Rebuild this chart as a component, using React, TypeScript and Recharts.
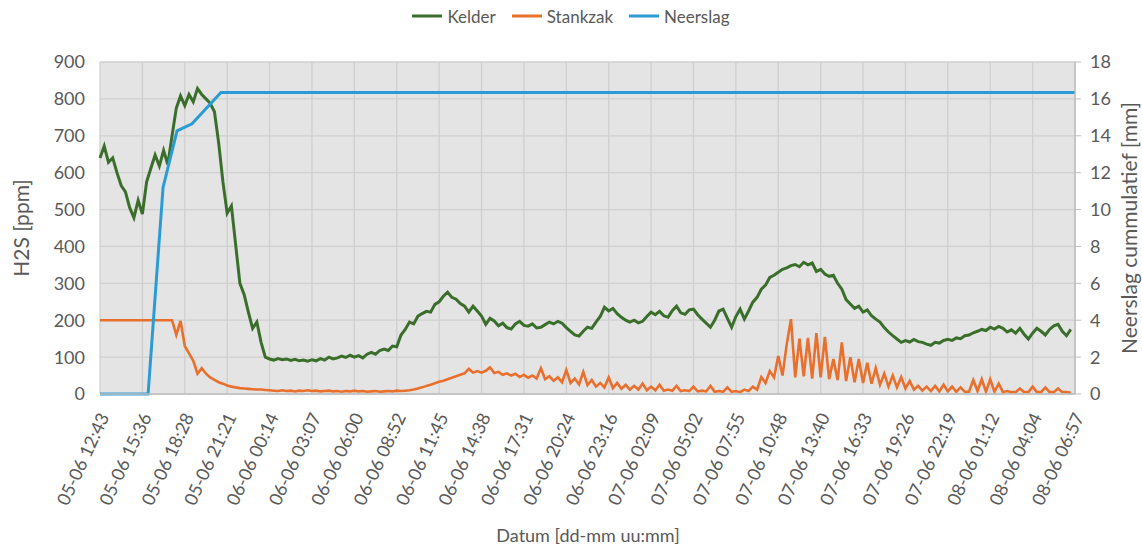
import React from 'react';
import { LineChart, Line, XAxis, YAxis, CartesianGrid, Legend, Label } from 'recharts';

const FONT = "Lato, 'Open Sans', sans-serif";
const TEXT = '#595959';

const TICK_LABELS = [
  '05-06 12:43', '05-06 15:36', '05-06 18:28', '05-06 21:21', '06-06 00:14', '06-06 03:07',
  '06-06 06:00', '06-06 08:52', '06-06 11:45', '06-06 14:38', '06-06 17:31', '06-06 20:24',
  '06-06 23:16', '07-06 02:09', '07-06 05:02', '07-06 07:55', '07-06 10:48', '07-06 13:40',
  '07-06 16:33', '07-06 19:26', '07-06 22:19', '08-06 01:12', '08-06 04:04', '08-06 06:57',
];
const TOTAL_MIN = 3974; // 05-06 12:43 -> 08-06 06:57
const TICK_STEP = TOTAL_MIN / (TICK_LABELS.length - 1);
const SAMPLE_MIN = TICK_STEP / 10;

const LEFT_TICKS = [0, 100, 200, 300, 400, 500, 600, 700, 800, 900];
const RIGHT_TICKS = [0, 2, 4, 6, 8, 10, 12, 14, 16, 18];

// H2S kelder [ppm], one value per sample
const KELDER = [
  640, 672, 628, 640, 600, 565, 548, 505, 478, 525, 488, 575, 612, 648, 618, 660, 622, 700, 775, 808,
  782, 812, 792, 828, 812, 800, 788, 765, 680, 575, 490, 510, 405, 300, 270, 222, 178, 195, 140, 100,
  95, 92, 96, 93, 95, 91, 94, 90, 92, 89, 93, 90, 96, 92, 100, 95, 98, 103, 99, 105,
  100, 104, 98, 108, 113, 108, 118, 122, 118, 130, 128, 160, 175, 195, 190, 211, 218, 224, 222, 243,
  250, 265, 276, 262, 257, 245, 238, 222, 238, 225, 211, 189, 205, 198, 185, 192, 180, 176, 190, 197,
  186, 184, 190, 179, 181, 188, 195, 190, 197, 192, 180, 170, 160, 157, 170, 181, 178, 195, 210, 235,
  225, 232, 218, 208, 200, 195, 200, 193, 197, 210, 222, 215, 224, 212, 208, 226, 238, 220, 216, 228,
  230, 215, 203, 192, 181, 200, 225, 230, 205, 181, 210, 230, 203, 225, 249, 262, 284, 295, 316, 322,
  330, 338, 342, 348, 351, 345, 357, 350, 355, 332, 338, 325, 319, 322, 300, 284, 256, 244, 232, 238,
  222, 228, 212, 203, 195, 180, 168, 158, 149, 140, 145, 141, 148, 142, 140, 135, 132, 140, 138, 145,
  148, 145, 152, 150, 158, 160, 166, 170, 175, 172, 181, 176, 183, 178, 168, 174, 165, 178, 162, 149,
  165, 178, 170, 160, 175, 185, 189, 170, 158, 175,
];

// H2S stankzak [ppm], one value per sample
const STANKZAK = [
  200, 200, 200, 200, 200, 200, 200, 200, 200, 200, 200, 200, 200, 200, 200, 200, 200, 200, 160, 198,
  130, 110, 90, 55, 70, 55, 45, 38, 32, 28, 23, 20, 18, 16, 15, 14, 13, 12, 12, 11,
  10, 9, 8, 10, 8, 9, 7, 9, 8, 10, 8, 9, 7, 8, 9, 7, 8, 6, 8, 7,
  9, 7, 8, 6, 7, 8, 6, 7, 8, 7, 9, 8, 9, 10, 12, 15, 18, 22, 25, 29,
  33, 36, 40, 44, 48, 52, 56, 68, 58, 62, 58, 63, 72, 57, 60, 52, 56, 50, 55, 46,
  52, 44, 50, 42, 70, 40, 48, 36, 45, 32, 65, 30, 42, 26, 60, 24, 38, 20, 30, 18,
  45, 16, 30, 14, 25, 12, 22, 12, 28, 10, 20, 10, 25, 9, 12, 9, 22, 8, 10, 8,
  20, 7, 9, 7, 22, 6, 8, 6, 18, 6, 8, 5, 12, 8, 20, 12, 46, 30, 62, 45,
  103, 50, 135, 203, 45, 150, 48, 152, 42, 165, 45, 155, 40, 95, 38, 140, 35, 100, 32, 95,
  30, 85, 28, 70, 25, 55, 20, 50, 18, 46, 15, 35, 12, 22, 9, 20, 8, 22, 7, 25,
  7, 20, 6, 18, 6, 6, 38, 8, 40, 6, 40, 6, 28, 5, 8, 5, 5, 15, 5, 5,
  20, 5, 5, 18, 5, 5, 15, 5, 5, 3,
];

// Neerslag cumulatief [mm]
const NEERSLAG_TIME_MIN = [0, 196, 257, 314, 375, 493, 3974];
const NEERSLAG_MM = [0, 0, 11.2, 14.27, 14.65, 16.35, 16.35];

const X_TICKS = TICK_LABELS.map((_, i) => i * TICK_STEP);

type Row = { t: number; kelder?: number; stankzak?: number; neerslag?: number };
const rows: Row[] = [];
KELDER.forEach((v, i) => rows.push({ t: i * SAMPLE_MIN, kelder: v, stankzak: STANKZAK[i] }));
NEERSLAG_TIME_MIN.forEach((t, i) => rows.push({ t, neerslag: NEERSLAG_MM[i] }));
rows.sort((a, b) => a.t - b.t);

const SERIES = [
  { key: 'kelder', name: 'Kelder', color: '#3a6e2b', width: 3, axis: 'left' },
  { key: 'stankzak', name: 'Stankzak', color: '#e9702c', width: 2.6, axis: 'left' },
  { key: 'neerslag', name: 'Neerslag', color: '#2a9bd7', width: 3, axis: 'right' },
];

const XTick = (props: any) => {
  const { x, y, payload } = props;
  const idx = Math.round(payload.value / TICK_STEP);
  return (
    <g transform={`translate(${x + 4},${y + 20})`}>
      <text textAnchor="end" transform="rotate(-65)" dy="0.35em" fill={TEXT} fontSize={18} fontFamily={FONT}>
        {TICK_LABELS[idx]}
      </text>
    </g>
  );
};

const renderLegend = () => (
  <div style={{ display: 'flex', justifyContent: 'center', alignItems: 'center', height: 32, fontFamily: FONT, fontSize: 17, color: TEXT }}>
    {SERIES.map((s) => (
      <span key={s.key} style={{ display: 'inline-flex', alignItems: 'center', margin: '0 8px' }}>
        <svg width={30} height={4} style={{ marginRight: 5 }}>
          <line x1={0} y1={2} x2={30} y2={2} stroke={s.color} strokeWidth={3} />
        </svg>
        <span>{s.name}</span>
      </span>
    ))}
  </div>
);

export default function App() {
  return (
    <div>
      <style>{`body{margin:0;} .recharts-surface{overflow:visible;}`}</style>
      <LineChart width={1142} height={549} data={rows} margin={{ top: 30, right: 0, bottom: 0, left: 0 }}>
        <Legend verticalAlign="top" align="center" content={renderLegend} wrapperStyle={{ top: 0, left: 0, width: 1142, height: 32 }} />
        <CartesianGrid yAxisId="left" stroke="#cfcfcf" strokeWidth={1.3} fill="#e4e4e4" />
        <XAxis
          dataKey="t"
          type="number"
          domain={[0, TOTAL_MIN]}
          ticks={X_TICKS}
          interval={0}
          height={155}
          tickLine={false}
          tickSize={0}
          tickMargin={0}
          axisLine={{ stroke: '#bfbfbf', strokeWidth: 1.3 }}
          tick={<XTick />}
        >
          <Label
            content={() => (
              <text x={588} y={542} textAnchor="middle" fill={TEXT} fontSize={18} fontFamily={FONT}>
                Datum [dd-mm uu:mm]
              </text>
            )}
          />
        </XAxis>
        <YAxis
          yAxisId="left"
          orientation="left"
          domain={[0, 900]}
          ticks={LEFT_TICKS}
          width={100}
          tickLine={false}
          axisLine={false}
          tickSize={0}
          tickMargin={15}
          tick={{ fill: TEXT, fontSize: 18, fontFamily: FONT }}
        >
          <Label
            content={() => (
              <text x={20} y={228} transform="rotate(-90, 20, 228)" textAnchor="middle" dominantBaseline="central" fill={TEXT} fontSize={21} fontFamily={FONT}>
                H2S [ppm]
              </text>
            )}
          />
        </YAxis>
        <YAxis
          yAxisId="right"
          orientation="right"
          domain={[0, 18]}
          ticks={RIGHT_TICKS}
          width={67}
          tickLine={{ stroke: '#bfbfbf' }}
          axisLine={{ stroke: '#bfbfbf', strokeWidth: 1.3 }}
          tickSize={6}
          tickMargin={9}
          tick={{ fill: TEXT, fontSize: 18, fontFamily: FONT }}
        >
          <Label
            content={() => (
              <text x={1128} y={228} transform="rotate(-90, 1128, 228)" textAnchor="middle" dominantBaseline="central" fill={TEXT} fontSize={21} fontFamily={FONT}>
                Neerslag cummulatief [mm]
              </text>
            )}
          />
        </YAxis>
        {SERIES.map((s) => (
          <Line
            key={s.key}
            yAxisId={s.axis}
            dataKey={s.key}
            name={s.name}
            stroke={s.color}
            strokeWidth={s.width}
            dot={false}
            activeDot={false}
            connectNulls
            isAnimationActive={false}
            type="linear"
          />
        ))}
      </LineChart>
    </div>
  );
}
